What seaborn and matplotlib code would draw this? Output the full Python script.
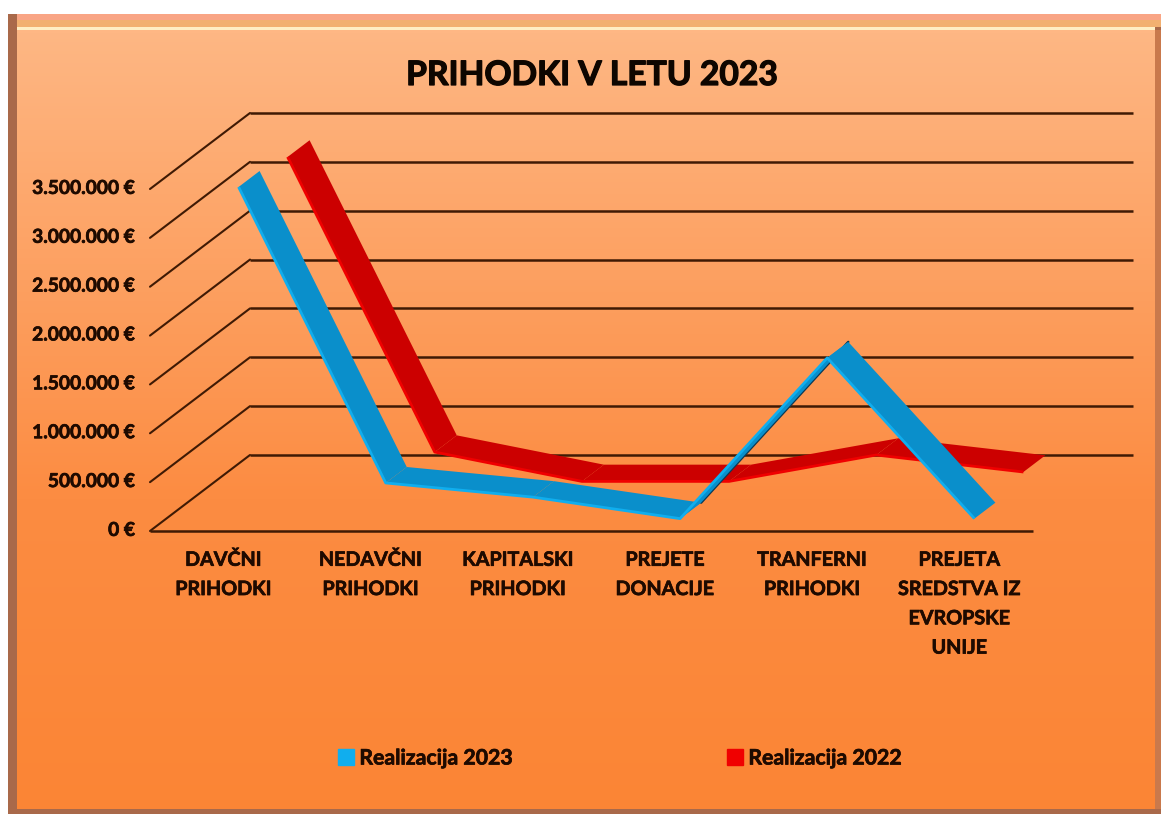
import numpy as np
import pandas as pd
import matplotlib
matplotlib.use('Agg')
import matplotlib.pyplot as plt
import matplotlib.patheffects as pe
from matplotlib.patches import Patch, Rectangle
from matplotlib.transforms import ScaledTranslation
import seaborn as sns

categories = ['DAVČNI\nPRIHODKI', 'NEDAVČNI\nPRIHODKI', 'KAPITALSKI\nPRIHODKI',
              'PREJETE\nDONACIJE', 'TRANFERNI\nPRIHODKI',
              'PREJETA\nSREDSTVA IZ\nEVROPSKE\nUNIJE']
real_2023 = [3404000, 375000, 230000, 10000, 1655000, 10000]
real_2022 = [3330000, 310000, 10000, 10000, 280000, 106000]
yticks = [0, 500000, 1000000, 1500000, 2000000, 2500000, 3000000, 3500000]

W, H = 1162, 814
# pixel size of one category / one euro on the front plane
PX_CAT = 883 / 6
PX_EUR = 342 / 3500000
# full depth of the floor in pixels
DEPTH_X, DEPTH_Y = 100, 76

sns.set_theme(style='white')
plt.rcParams['font.family'] = ['Lato', 'DejaVu Sans']
plt.rcParams['font.weight'] = 'bold'

fig = plt.figure(figsize=(W / 100, H / 100), dpi=100, facecolor='white')

# background card with gradient and bevel
bg = fig.add_axes([0, 0, 1, 1], zorder=0)
grad = np.linspace(0, 1, 256).reshape(-1, 1)
cmap = matplotlib.colors.LinearSegmentedColormap.from_list(
    'card', [(0, '#FEB784'), (0.6, '#FC8C42'), (1, '#FB8535')])
bg.imshow(grad, extent=[17, 1155, 809, 30], cmap=cmap, aspect='auto', zorder=1)
bg.set_xlim(0, W)
bg.set_ylim(H, 0)
bg.axis('off')
bg.add_patch(Rectangle((8, 14), 1153, 800, fc='#A9694A', ec='none', zorder=0))
bg.add_patch(Rectangle((17, 14), 1144, 6, fc='#F9A585', ec='none', zorder=0.5))
bg.add_patch(Rectangle((17, 20), 1144, 7, fc='#F2B070', ec='none', zorder=0.5))
bg.add_patch(Rectangle((17, 27), 1138, 3, fc='#FFEFC4', ec='none', zorder=0.6))
bg.add_patch(Rectangle((1155, 30), 6, 779, fc='#C9794C', ec='none', zorder=0.6))

# chart axes: the front plane of the 3D box
ax = fig.add_axes([150 / W, 1 - 531 / H, 883 / W, 342 / H], zorder=1)
ax.patch.set_alpha(0)
sns.despine(ax=ax, left=True, bottom=True, right=True, top=True)


def proj(x, y, d):
    return np.asarray(x) + d * DEPTH_X / PX_CAT, np.asarray(y) + d * DEPTH_Y / PX_EUR


# walls
grid_col = '#3F1A04'
for t in yticks:
    gx, gy = proj([-0.5, -0.5], [t, t], np.array([0, 1]))
    sns.lineplot(x=gx, y=gy, ax=ax, color=grid_col, lw=1.5, sort=False,
                 errorbar=None, clip_on=False, zorder=2)
    gx, gy = proj([-0.5, 5.5], [t, t], 1)
    sns.lineplot(x=gx, y=gy, ax=ax, color=grid_col, lw=1.8, sort=False,
                 errorbar=None, clip_on=False, zorder=2, solid_capstyle='butt')
sns.lineplot(x=[-0.5, 5.5], y=[0, 0], ax=ax, color=grid_col, lw=1.8, sort=False,
             errorbar=None, clip_on=False, zorder=2, solid_capstyle='butt')


def ribbon(values, d0, d1, dark, light, z):
    idx = np.arange(len(values))
    vals = np.array(values, dtype=float)
    fx, fy = proj(idx, vals, d0)
    bx, by = proj(idx, vals, d1)
    for i in range(len(vals) - 1):
        ax.fill([fx[i], fx[i + 1], bx[i + 1], bx[i]], [fy[i], fy[i + 1], by[i + 1], by[i]],
                color=dark, lw=0, clip_on=False, zorder=z)
    edge = pd.DataFrame({'x': fx, 'y': fy})
    sns.lineplot(data=edge, x='x', y='y', ax=ax, color=light, lw=2, sort=False,
                 errorbar=None, clip_on=False, zorder=z + 0.1, solid_capstyle='butt')
    return fx, fy, bx, by


ribbon(real_2022, 0.64, 0.86, '#CC0000', '#F00000', 3)
fx, fy, bx, by = ribbon(real_2023, 0.15, 0.36, '#0A8FCB', '#10AEEE', 4)
# underside of the rising segment shows as a dark edge
sns.lineplot(x=bx[3:5], y=by[3:5], ax=ax, color='#0D3A55', lw=1.8, sort=False,
             errorbar=None, clip_on=False, zorder=3.9)

ax.set_xlim(-0.5, 5.5)
ax.set_ylim(0, 3500000)
heavy = [pe.withStroke(linewidth=0.5, foreground='#1E0A00')]
ax.set_xticks(range(len(categories)))
ax.set_xticklabels(categories, fontsize=14.2, color='#1E0A00', linespacing=1.58,
                   fontweight='bold', va='top', path_effects=heavy)
ax.set_yticks(yticks)
ax.set_yticklabels([f'{t:,.0f} €'.replace(',', '.') for t in yticks], fontsize=13.8,
                   color='#1E0A00', fontweight='bold', path_effects=heavy)
ax.tick_params(axis='x', length=0, pad=13.5)
ax.tick_params(axis='y', length=0, pad=10.8)
# labels sit a little above the ends of the grid lines
for lab in ax.get_yticklabels():
    lab.set_transform(lab.get_transform() + ScaledTranslation(0, 1.5 / 72, fig.dpi_scale_trans))
ax.set_xlabel('')
ax.set_ylabel('')

fig.text(592 / W, 1 - 75 / H, 'PRIHODKI V LETU 2023', ha='center', va='center',
         fontsize=24.2, fontweight='bold', color='#0E0600',
         path_effects=[pe.withStroke(linewidth=0.9, foreground='#0E0600')])

# legend: two entries placed apart like the original
for col, label, left in [('#10AEEE', 'Realizacija 2023', 319), ('#F00000', 'Realizacija 2022', 708)]:
    leg = fig.legend(handles=[Patch(color=col, label=label)], loc='center left',
                     bbox_to_anchor=(left / W, 1 - 758.5 / H), frameon=False, fontsize=15.3,
                     handlelength=0.75, handleheight=0.75, handletextpad=0.25,
                     labelcolor='#1E0A00')
    for txt in leg.get_texts():
        txt.set_path_effects(heavy)

fig.savefig('out.png', dpi=100, facecolor='white')
